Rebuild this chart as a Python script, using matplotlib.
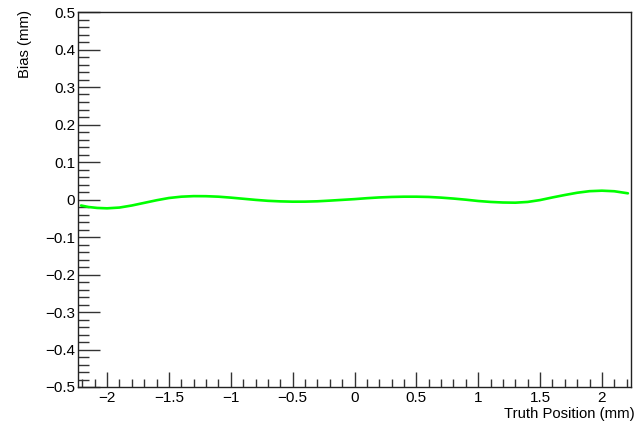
import numpy as np
import matplotlib
matplotlib.use("Agg")
import matplotlib.pyplot as plt
from matplotlib.ticker import MultipleLocator

# Data
truth_pos = [-2.21, -2.15, -2.08, -2.00, -1.90, -1.80, -1.70, -1.60, -1.50, -1.40,
             -1.30, -1.20, -1.10, -1.00, -0.90, -0.80, -0.70, -0.60, -0.50, -0.40,
             -0.30, -0.20, -0.10, 0.00, 0.10, 0.20, 0.30, 0.40, 0.50, 0.60,
             0.70, 0.80, 0.90, 1.00, 1.10, 1.20, 1.30, 1.40, 1.50, 1.60,
             1.70, 1.80, 1.90, 2.00, 2.10, 2.21]
bias = [-0.0160, -0.0200, -0.0225, -0.0235, -0.0215, -0.0160, -0.0090, -0.0020, 0.0040, 0.0075,
        0.0090, 0.0088, 0.0075, 0.0050, 0.0020, -0.0010, -0.0035, -0.0050, -0.0058, -0.0057,
        -0.0048, -0.0030, -0.0010, 0.0010, 0.0035, 0.0055, 0.0068, 0.0075, 0.0075, 0.0068,
        0.0050, 0.0025, -0.0005, -0.0040, -0.0065, -0.0080, -0.0085, -0.0065, -0.0015, 0.0055,
        0.0120, 0.0180, 0.0222, 0.0235, 0.0220, 0.0165]

plt.rcParams['font.family'] = ['Liberation Sans', 'DejaVu Sans']

fig = plt.figure(figsize=(6.41, 4.26), dpi=100)
ax = fig.add_axes([78/641, 1 - 387/426, (631 - 78)/641, (387 - 12)/426])

ax.plot(truth_pos, bias, color='#00ff00', lw=1.9, solid_capstyle='round')

ax.set_xlim(-2.235, 2.235)
ax.set_ylim(-0.5, 0.5)

ax.xaxis.set_major_locator(MultipleLocator(0.5))
ax.xaxis.set_minor_locator(MultipleLocator(0.1))
ax.yaxis.set_major_locator(MultipleLocator(0.1))
ax.yaxis.set_minor_locator(MultipleLocator(0.02))

ax.tick_params(axis='both', which='both', direction='in', top=False, right=False,
               labelsize=11, color='#333333', width=1.0)
ax.tick_params(axis='x', which='major', length=11, pad=3)
ax.tick_params(axis='x', which='minor', length=6)
ax.tick_params(axis='y', which='major', length=16, pad=2)
ax.tick_params(axis='y', which='minor', length=8)

def fmt(v):
    if abs(v) < 1e-9:
        return '0'
    s = ('%g' % round(v, 2))
    return s.replace('-', '\u2212')

ax.set_xticks(np.arange(-2, 2.01, 0.5))
ax.set_xticklabels([fmt(v) for v in np.arange(-2, 2.01, 0.5)])
ax.set_yticks(np.arange(-0.5, 0.501, 0.1))
ax.set_yticklabels([fmt(v) for v in np.arange(-0.5, 0.501, 0.1)])

for s in ax.spines.values():
    s.set_color('#222222')
    s.set_linewidth(1.0)

fig.text(635/641, 1 - 421/426, 'Truth Position (mm)', ha='right', va='bottom', fontsize=10.7)
fig.text(25/641, 1 - 10/426, 'Bias (mm)', ha='center', va='top', rotation=90, fontsize=10.7)

fig.savefig('out.png', dpi=100)
